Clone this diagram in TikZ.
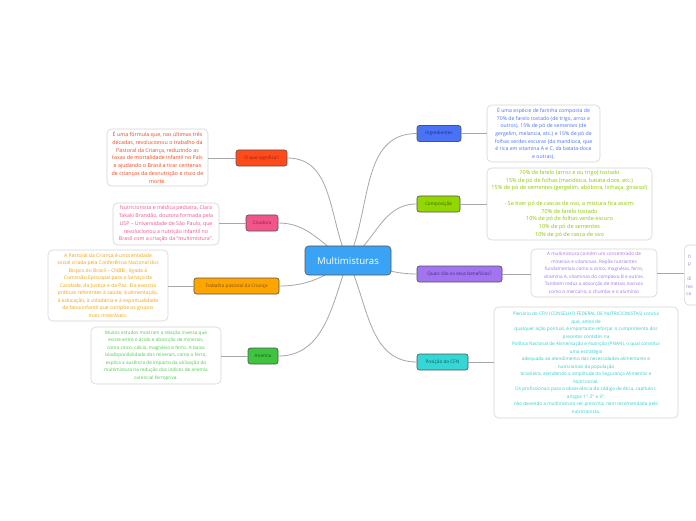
\documentclass[tikz,border=0pt]{standalone}
\usepackage{fontspec}
\setmainfont{Open Sans}
\usetikzlibrary{backgrounds}
\definecolor{mmedge}{HTML}{555555}
\definecolor{mmnoteedge}{HTML}{D4D4D4}
\definecolor{mmlink}{HTML}{A8A8A8}
\definecolor{mmroot}{HTML}{3BA3F6}
\definecolor{mmred}{HTML}{FF4A1C}
\definecolor{mmredtxt}{HTML}{8E2206}
\definecolor{mmrednote}{HTML}{F2461E}
\definecolor{mmpink}{HTML}{F2558C}
\definecolor{mmpinktxt}{HTML}{8A1E45}
\definecolor{mmorange}{HTML}{FFA500}
\definecolor{mmorangetxt}{HTML}{7A4F00}
\definecolor{mmorangenote}{HTML}{F2A20A}
\definecolor{mmgreen}{HTML}{3EC43E}
\definecolor{mmgreentxt}{HTML}{165C16}
\definecolor{mmgreennote}{HTML}{4CC84C}
\definecolor{mmblue}{HTML}{4A72F5}
\definecolor{mmbluetxt}{HTML}{1C2E8C}
\definecolor{mmlime}{HTML}{92D800}
\definecolor{mmlimetxt}{HTML}{3F5E00}
\definecolor{mmlimenote}{HTML}{8CC800}
\definecolor{mmpurple}{HTML}{A274F0}
\definecolor{mmpurpletxt}{HTML}{472A85}
\definecolor{mmcyan}{HTML}{34D6D6}
\definecolor{mmcyantxt}{HTML}{145C5C}
\definecolor{mmcyannote}{HTML}{33CCCC}

\begin{document}
\begin{tikzpicture}[
  x=0.03cm, y=0.03cm,
  font=\fontsize{4}{6.4}\selectfont,
  root/.style={draw=mmedge,fill=mmroot,text=white,rounded corners=3pt,line width=0.5pt,minimum width=86*0.8536pt,minimum height=29*0.8536pt,inner sep=0pt,font=\fontsize{8.2}{10}\selectfont},
  topic/.style n args={3}{draw=mmedge,fill=#2,text=#3,rounded corners=2pt,line width=0.5pt,minimum width=#1*0.8536pt,minimum height=16*0.8536pt,inner sep=0pt},
  note/.style n args={3}{draw=mmnoteedge,fill=white,text=#3,rounded corners=4pt,line width=0.5pt,minimum width=#1*0.8536pt,minimum height=#2*0.8536pt,inner sep=0pt,align=center},
  link/.style={draw=mmlink,line width=0.7pt}
]
\useasboundingbox (0,0) rectangle (696,520);

\node[root] (mm) at (348,259.5) {Multimisturas};

% left side
\node[topic={51}{mmred}{mmredtxt}] (sig) at (261.5,362) {O que significa?};
\node[note={101}{57}{mmrednote},font=\fontsize{4.55}{6.6}\selectfont] (sigt) at (157.5,362.5) {É uma fórmula que, nas últimas três\\décadas, revolucionou o trabalho da\\Pastoral da Criança, reduzindo as\\taxas de mortalidade infantil no País\\e ajudando o Brasil a tirar centenas\\de crianças da desnutrição e risco de\\morte.};

\node[topic={32}{mmpink}{mmpinktxt}] (cri) at (262,297) {Criadora};
\node[note={106}{42}{mmpink},font=\fontsize{4.5}{6.6}\selectfont] (crit) at (166,296) {Nutricionista e médica pediatra, Clara\\Takaki Brandão, doutora formada pela\\USP – Universidade de São Paulo, que\\revolucionou a nutrição infantil no\\Brasil com a criação da "multimistura".};

\node[topic={85}{mmorange}{mmorangetxt}] (pas) at (236.5,234) {Trabalho pastoral da Criança};
\node[note={120}{71}{mmorangenote},font=\fontsize{4.3}{6.4}\selectfont] (past) at (108,234.5) {A Pastoral da Criança é uma entidade\\social criada pela Conferência Nacional dos\\Bispos do Brasil – CNBB-, ligada à\\Comissão Episcopal para o Serviço da\\Caridade, da Justiça e da Paz. Ela exercita\\práticas referentes à saúde, à alimentação,\\à educação, à cidadania e à espiritualidade\\da faixa infantil que compõe os grupos\\mais miseráveis.};

\node[topic={30}{mmgreen}{mmgreentxt}] (ane) at (263,164) {Anemia};
\node[note={130}{57}{mmgreennote}] (anet) at (156,164.5) {Muitos estudos mostram a relação inversa que\\existe entre o ácido e absorção de minerais,\\como zinco, cálcio, magnésio e ferro. A baixa\\biodisponibilidade dos minerais, como o ferro,\\explica a ausência de impacto da utilização da\\multimistura na redução dos índices de anemia\\carencial ferropriva.};

% right side
\node[topic={44}{mmblue}{mmbluetxt}] (ing) at (439,386.5) {Ingredientes};
\node[note={113}{57}{mmblue},font=\fontsize{4.4}{6.5}\selectfont] (ingt) at (543.5,386.5) {É uma espécie de farinha composta de\\70\% de farelo tostado (de trigo, arroz e\\outros), 15\% de pó de sementes (de\\gergelim, melancia, etc.) e 15\% de pó de\\folhas verdes escuras (da mandioca, que\\é rica em vitamina A e C, da batata-doce\\e outras).};

\node[topic={43}{mmlime}{mmlimetxt}] (com) at (438.5,316) {Composição};
\node[note={165}{72}{mmlimenote},font=\fontsize{4.7}{6.6}\selectfont] (comt) at (569.5,316) {70\% de farelo (arroz e ou trigo) tostado\\15\% de pó de folhas (mandioca, batata-doce, etc.)\\15\% de pó de sementes (gergelim, abóbora, linhaça, girassol)\\[6.6pt]- Se tiver pó de cascas de ovo, a mistura fica assim:\\70\% de farelo tostado\\10\% de pó de folhas verde-escuro\\10\% de pó de sementes\\10\% de pó de casca de ovo};

\node[topic={85}{mmpurple}{mmpurpletxt}] (qua) at (459.5,246) {Quais são os seus benefícios?};
\node[note={126}{48}{mmpurple}] (quat) at (594,247) {A multimistura contém um concentrado de\\minerais e vitaminas. Repõe nutrientes\\fundamentais como o zinco, magnésio, ferro,\\vitamina A, vitaminas do complexo B e outras.\\Também reduz a absorção de metais nocivos\\como o mercúrio, o chumbo e o alumínio};
\node[note={60}{60}{mmpurple},anchor=west,align=left,text width=56*0.8536pt] (ben) at (684,245) {\hspace*{1.5pt}fi\\\hspace*{1.5pt}p\\~\\\hspace*{1pt}di\\res\\co};

\node[topic={51}{mmcyan}{mmcyantxt}] (pos) at (442.5,158) {Posição do CFN};
\node[note={184}{111}{mmcyannote}] (post) at (586,157.5) {Plenário do CFN (CONSELHO FEDERAL DE NUTRICIONISTAS) conclui\\que, antes de\\qualquer ação pontual, é importante reforçar o cumprimento dos\\preceitos contidos na\\Política Nacional de Alimentação e Nutrição (PNAN), o qual constitui\\uma estratégia\\adequada ao atendimento das necessidades alimentares e\\nutricionais da população\\brasileira, atendendo a amplitude da Segurança Alimentar e\\Nutricional.\\Os profissionais para a observância do código de ética, capítulo I,\\artigos 1º, 2º e 3º,\\não devendo a multimistura ser prescrita, nem recomendada pelo\\nutricionista.};

\begin{scope}[on background layer]
\draw[link] (mm.center) to[out=115,in=0] (sig.east);
\draw[link] (mm.center) to[out=150,in=0] (cri.east);
\draw[link] (mm.center) to[out=215,in=0] (pas.east);
\draw[link] (mm.center) to[out=250,in=0] (ane.east);
\draw[link] (mm.center) to[out=65,in=180] (ing.west);
\draw[link] (mm.center) to[out=35,in=180] (com.west);
\draw[link] (mm.center) to[out=-10,in=180] (qua.west);
\draw[link] (mm.center) to[out=-65,in=180] (pos.west);
\end{scope}

\draw[link] (sig.west) -- (sig.west -| sigt.east);
\draw[link] (cri.west) -- (cri.west -| crit.east);
\draw[link] (pas.west) -- (pas.west -| past.east);
\draw[link] (ane.west) -- (ane.west -| anet.east);
\draw[link] (ing.east) -- (ing.east -| ingt.west);
\draw[link] (com.east) -- (com.east -| comt.west);
\draw[link] (qua.east) -- (qua.east -| quat.west);
\draw[link] (quat.east) -- (quat.east -| ben.west);
\draw[link] (pos.east) -- (pos.east -| post.west);
\end{tikzpicture}
\end{document}
